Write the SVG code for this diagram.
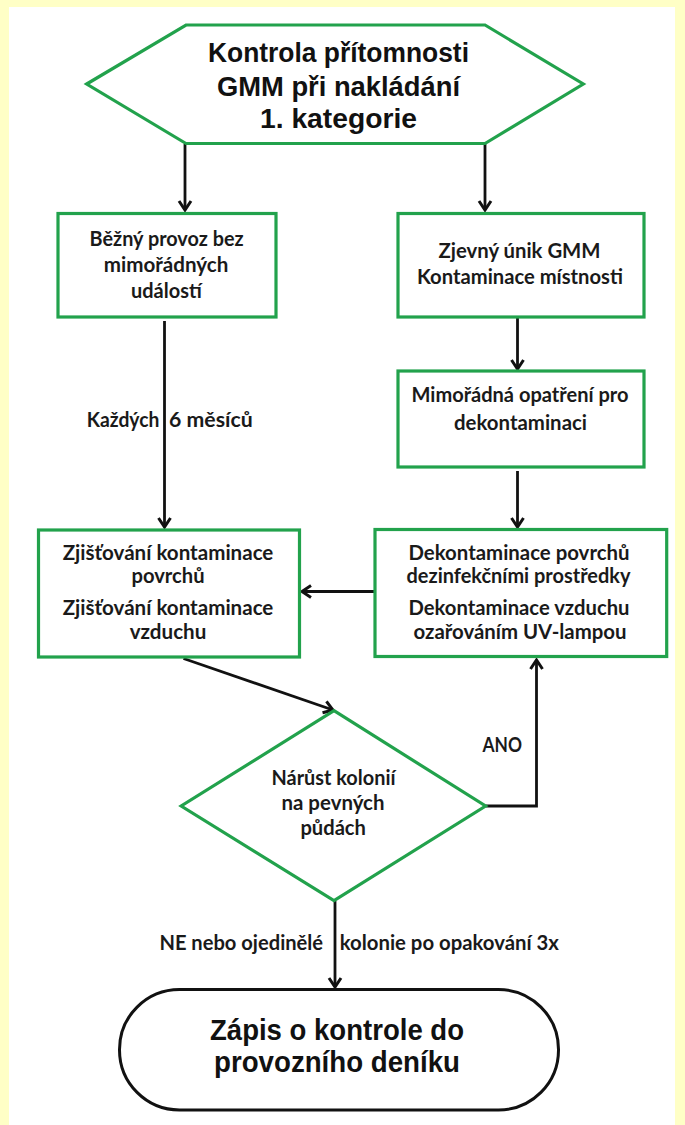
<svg xmlns="http://www.w3.org/2000/svg" width="685" height="1125" viewBox="0 0 685 1125">
<style>
.node{fill:#ffffff;stroke:#22a24c;stroke-width:3.2}
.term{fill:#ffffff;stroke:#111111;stroke-width:3}
.conn{fill:none;stroke:#111111;stroke-width:2.8}
.ttl{font-family:"Liberation Sans",Arial,sans-serif;font-weight:bold;font-size:28px;fill:#111111;text-anchor:middle}
.big{font-family:"Liberation Sans",Arial,sans-serif;font-weight:bold;font-size:29px;fill:#111111;text-anchor:middle}
.txt{font-family:Lato,"Open Sans","Liberation Sans",sans-serif;font-weight:bold;font-size:21.5px;fill:#1a1a1a;text-anchor:middle}
.lbl{font-family:Lato,"Open Sans","Liberation Sans",sans-serif;font-weight:bold;font-size:21px;fill:#1a1a1a}
</style>
<defs>
<marker id="arr" markerUnits="userSpaceOnUse" markerWidth="18" markerHeight="18" refX="13" refY="9" orient="auto" viewBox="0 0 18 18">
<path d="M4,3 L13,9 L4,15" fill="none" stroke="#111111" stroke-width="3" stroke-linejoin="miter"/>
</marker>
</defs>
<rect x="0" y="0" width="685" height="1125" fill="#ffffc6"/>
<rect x="9" y="7" width="666" height="1118" fill="#ffffff"/>

<g id="connectors">
<line class="conn" x1="185" y1="144" x2="185" y2="210" marker-end="url(#arr)"/>
<line class="conn" x1="485" y1="144" x2="485" y2="210" marker-end="url(#arr)"/>
<line class="conn" x1="517.5" y1="318" x2="517.5" y2="369" marker-end="url(#arr)"/>
<line class="conn" x1="164.5" y1="321" x2="164.5" y2="527" marker-end="url(#arr)"/>
<line class="conn" x1="517.5" y1="471" x2="517.5" y2="527" marker-end="url(#arr)"/>
<line class="conn" x1="374" y1="591.5" x2="302" y2="591.5" marker-end="url(#arr)"/>
<line class="conn" x1="183.5" y1="658.5" x2="333" y2="710" marker-end="url(#arr)"/>
<polyline class="conn" points="485.6,806 536.5,806 536.5,660" marker-end="url(#arr)"/>
<line class="conn" x1="335" y1="901" x2="335" y2="987" marker-end="url(#arr)"/>
<text class="lbl" x="86.7" y="427" textLength="72.7" lengthAdjust="spacingAndGlyphs">Každých</text>
<text class="lbl" x="169" y="427" textLength="83.7" lengthAdjust="spacingAndGlyphs">6 měsíců</text>
<text class="lbl" x="482.5" y="752" textLength="39.5" lengthAdjust="spacingAndGlyphs">ANO</text>
<text class="lbl" x="159.4" y="950" textLength="163.7" lengthAdjust="spacingAndGlyphs">NE nebo ojedinělé</text>
<text class="lbl" x="339.7" y="950" textLength="219.3" lengthAdjust="spacingAndGlyphs">kolonie po opakování 3x</text>
</g>

<g id="start">
<polygon class="node" points="86.7,84 186,25 485,25 583.3,84 485,143.5 186,143.5"/>
<text class="ttl" x="338.5" y="62" textLength="261" lengthAdjust="spacingAndGlyphs">Kontrola přítomnosti</text>
<text class="ttl" x="338.5" y="95.5" textLength="243" lengthAdjust="spacingAndGlyphs">GMM při nakládání</text>
<text class="ttl" x="338.5" y="127.5" textLength="157" lengthAdjust="spacingAndGlyphs">1. kategorie</text>
</g>

<g id="bezny">
<rect class="node" x="58" y="213.5" width="218" height="103.5"/>
<text class="txt" x="166.6" y="246" textLength="154" lengthAdjust="spacingAndGlyphs">Běžný provoz bez</text>
<text class="txt" x="166" y="272" textLength="124.5" lengthAdjust="spacingAndGlyphs">mimořádných</text>
<text class="txt" x="166.4" y="298" textLength="70.7" lengthAdjust="spacingAndGlyphs">událostí</text>
</g>

<g id="unik">
<rect class="node" x="398" y="213.5" width="246" height="103.5"/>
<text class="txt" x="519.5" y="258" textLength="162" lengthAdjust="spacingAndGlyphs">Zjevný únik GMM</text>
<text class="txt" x="520" y="284" textLength="206" lengthAdjust="spacingAndGlyphs">Kontaminace místnosti</text>
</g>

<g id="opatreni">
<rect class="node" x="398" y="371" width="246" height="96"/>
<text class="txt" x="520" y="402" textLength="217" lengthAdjust="spacingAndGlyphs">Mimořádná opatření pro</text>
<text class="txt" x="520.5" y="430" textLength="133" lengthAdjust="spacingAndGlyphs">dekontaminaci</text>
</g>

<g id="zjistovani">
<rect class="node" x="38.5" y="530" width="261" height="127"/>
<text class="txt" x="168" y="559.5" textLength="210.7" lengthAdjust="spacingAndGlyphs">Zjišťování kontaminace</text>
<text class="txt" x="168" y="583.3" textLength="73" lengthAdjust="spacingAndGlyphs">povrchů</text>
<text class="txt" x="168" y="615" textLength="210.7" lengthAdjust="spacingAndGlyphs">Zjišťování kontaminace</text>
<text class="txt" x="168" y="639" textLength="76.7" lengthAdjust="spacingAndGlyphs">vzduchu</text>
</g>

<g id="dekontaminace">
<rect class="node" x="375" y="529.5" width="291.7" height="127"/>
<text class="txt" x="519" y="559.5" textLength="221" lengthAdjust="spacingAndGlyphs">Dekontaminace povrchů</text>
<text class="txt" x="518.5" y="583.3" textLength="224" lengthAdjust="spacingAndGlyphs">dezinfekčními prostředky</text>
<text class="txt" x="519" y="615" textLength="221" lengthAdjust="spacingAndGlyphs">Dekontaminace vzduchu</text>
<text class="txt" x="520" y="639.3" textLength="213" lengthAdjust="spacingAndGlyphs">ozařováním UV-lampou</text>
</g>

<g id="narust">
<polygon class="node" points="334,710.7 485.6,806 334,900.7 181.2,806"/>
<text class="txt" x="333.5" y="785" textLength="124" lengthAdjust="spacingAndGlyphs">Nárůst kolonií</text>
<text class="txt" x="333" y="810" textLength="103" lengthAdjust="spacingAndGlyphs">na pevných</text>
<text class="txt" x="333.2" y="835" textLength="65.5" lengthAdjust="spacingAndGlyphs">půdách</text>
</g>

<g id="zapis">
<rect class="term" x="119.5" y="989.5" width="439" height="120.5" rx="60" ry="60"/>
<text class="big" x="337" y="1040" textLength="254" lengthAdjust="spacingAndGlyphs">Zápis o kontrole do</text>
<text class="big" x="337" y="1071.5" textLength="246" lengthAdjust="spacingAndGlyphs">provozního deníku</text>
</g>
</svg>
